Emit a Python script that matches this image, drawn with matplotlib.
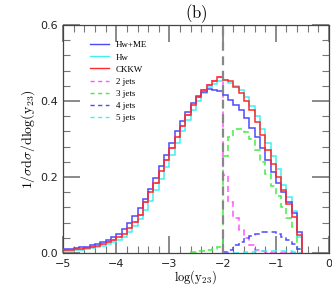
import matplotlib
matplotlib.use('Agg')
import matplotlib.pyplot as plt
import numpy as np

plt.rcParams['mathtext.fontset'] = 'cm'

# bins of log(y23), width 0.1, from -5.0 to -0.5
edge_lo = -5.0
edge_hi = -0.5

hw_me = [0.010, 0.011, 0.013, 0.015, 0.017, 0.020, 0.024, 0.028, 0.034, 0.041,
         0.050, 0.062, 0.078, 0.098, 0.118, 0.142, 0.168, 0.198, 0.228, 0.258,
         0.290, 0.320, 0.348, 0.372, 0.395, 0.412, 0.424, 0.432, 0.430, 0.426,
         0.415, 0.403, 0.390, 0.375, 0.355, 0.330, 0.305, 0.275, 0.245, 0.212,
         0.185, 0.160, 0.135, 0.105, 0.055]
hw = [0.005, 0.006, 0.007, 0.009, 0.011, 0.013, 0.016, 0.019, 0.023, 0.028,
      0.034, 0.043, 0.056, 0.072, 0.090, 0.112, 0.138, 0.165, 0.195, 0.225,
      0.258, 0.290, 0.320, 0.350, 0.377, 0.400, 0.420, 0.436, 0.446, 0.452,
      0.455, 0.448, 0.440, 0.428, 0.410, 0.388, 0.360, 0.325, 0.290, 0.255,
      0.222, 0.180, 0.147, 0.110, 0.042]
ckkw = [0.007, 0.008, 0.010, 0.011, 0.013, 0.016, 0.019, 0.023, 0.028, 0.034,
        0.041, 0.050, 0.066, 0.082, 0.100, 0.135, 0.160, 0.185, 0.215, 0.245,
        0.275, 0.305, 0.335, 0.362, 0.390, 0.410, 0.428, 0.442, 0.452, 0.462,
        0.456, 0.452, 0.437, 0.420, 0.400, 0.375, 0.345, 0.310, 0.272, 0.235,
        0.200, 0.166, 0.130, 0.095, 0.047]
jets2 = [0.007, 0.008, 0.010, 0.011, 0.013, 0.016, 0.019, 0.023, 0.028, 0.034,
         0.041, 0.050, 0.066, 0.082, 0.100, 0.135, 0.160, 0.185, 0.215, 0.245,
         0.275, 0.305, 0.335, 0.362, 0.390, 0.410, 0.428, 0.442, 0.452, 0.462,
         0.205, 0.134, 0.092, 0.060, 0.040, 0.020, 0.008, 0.004, 0.002, 0.001,
         0.0, 0.0, 0.0, 0.0, 0.0]

# multi-jet samples only start near the merging cut
jets3_start = -2.6
jets3 = [0.003, 0.004, 0.006, 0.008, 0.010, 0.015,
         0.255, 0.305, 0.326, 0.325, 0.318, 0.300, 0.272, 0.240, 0.208, 0.175,
         0.150, 0.120, 0.092, 0.068, 0.010]
jets4_start = -2.0
jets4 = [0.002, 0.008, 0.020, 0.030, 0.040, 0.046, 0.051, 0.054, 0.055, 0.054,
         0.050, 0.042, 0.034, 0.024, 0.010]
jets5_start = -1.8
jets5 = [0.001, 0.001, 0.002, 0.003, 0.004, 0.005, 0.005, 0.005, 0.005, 0.005,
         0.004, 0.003, 0.001]

y_cut = -2.0


def edges(start, n):
    return np.round(start + 0.1 * np.arange(n + 1), 2)


fig = plt.figure(figsize=(3.32, 2.86), dpi=100)
ax = fig.add_axes([0.19, 0.1154, 0.801, 0.7972])

dash = (0, (4, 2.5))
ax.stairs(jets2, edges(edge_lo, len(jets2)), color='#ff55ff', lw=1.1, ls=dash,
          baseline=None, zorder=1)
ax.stairs(hw_me, edges(edge_lo, len(hw_me)), color='#4a4aff', lw=1.1, zorder=3)
ax.stairs(hw, edges(edge_lo, len(hw)), color='#40f0f0', lw=1.1, zorder=2)
ax.stairs(ckkw, edges(edge_lo, len(ckkw)), color='#ff2a2a', lw=1.1, zorder=4)
ax.stairs(jets3, edges(jets3_start, len(jets3)), color='#44ee44', lw=1.1, ls=dash, zorder=2)
ax.stairs(jets4, edges(jets4_start, len(jets4)), color='#4a4aff', lw=1.1, ls=dash, zorder=2)
ax.stairs(jets5, edges(jets5_start, len(jets5)), color='#40f0f0', lw=1.1, ls=dash, zorder=2)

ax.axvline(y_cut, color='#888888', lw=1.6, ls=dash, zorder=5)

ax.set_xlim(-5, 0)
ax.set_ylim(0, 0.6)
ax.set_xticks(np.arange(-5, 0.5, 1))
ax.set_xticks(np.arange(-5, 0.01, 0.2), minor=True)
ax.set_yticks([0.0, 0.2, 0.4, 0.6])
ax.set_yticks(np.arange(0, 0.61, 0.04), minor=True)
ax.set_xticklabels(['\u22125', '\u22124', '\u22123', '\u22122', '\u22121', '0'])
ax.set_yticklabels(['0.0', '0.2', '0.4', '0.6'])
ax.tick_params(which='both', direction='in', top=True, right=True, color='#777777',
               labelsize=8, labelcolor='#222222')
ax.tick_params(which='major', length=12, width=1.2, pad=4)
ax.tick_params(which='minor', length=5, width=0.8)
for s in ax.spines.values():
    s.set_color('#444444')
    s.set_linewidth(0.9)

ax.set_xlabel(r'$\mathrm{log(y_{23})}$', fontsize=9, labelpad=0)
ax.set_ylabel(r'$\mathrm{1/\sigma d\sigma/dlog(y_{23})}$', fontsize=10, labelpad=2)
ax.set_title(r'$\mathrm{(b)}$', fontsize=12, pad=3)

labels = ['Hw+ME', 'Hw', 'CKKW', '2 jets', '3 jets', '4 jets', '5 jets']
colors = ['#4a4aff', '#40f0f0', '#ff2a2a', '#ff55ff', '#44ee44', '#4a4aff', '#40f0f0']
handles = [plt.Line2D([], [], color=c, lw=1, ls='-' if 'jets' not in k else (0, (3, 2.5)))
           for k, c in zip(labels, colors)]
ax.legend(handles, labels, loc='upper left', bbox_to_anchor=(0.07, 0.965),
          frameon=False, handlelength=2.1, handletextpad=0.8,
          labelspacing=0.42, prop={'family': 'Liberation Serif', 'size': 6.5})

fig.savefig('out.png', dpi=100)
